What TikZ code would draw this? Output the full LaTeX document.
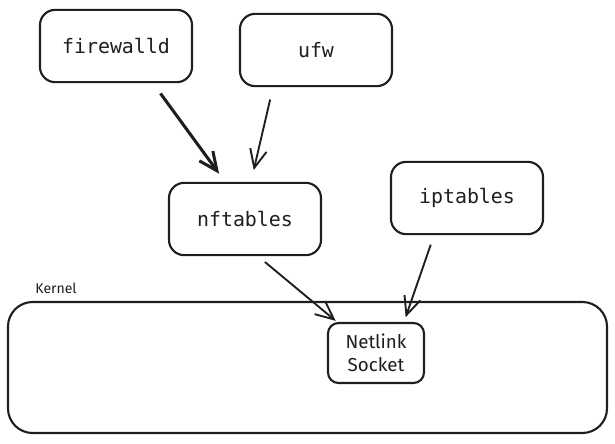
\documentclass[tikz,border=0pt]{standalone}
\usepackage{fontspec}
\usepackage{tikz}
\usetikzlibrary{arrows.meta,calc}
\newfontfamily\codefont{DejaVu Sans Mono}
\newfontfamily\handfont{Fira Sans}
\definecolor{inkblack}{RGB}{30,30,30}

\begin{document}
\begin{tikzpicture}[
    x=0.03cm, y=-0.03cm,
    tool/.style={rectangle, draw=inkblack, line width=1.8pt, rounded corners=13pt, minimum width=4.56cm, minimum height=2.17cm, font=\codefont\fontsize{17}{20}\selectfont, text=inkblack},
    socket/.style={rectangle, draw=inkblack, line width=1.8pt, rounded corners=9pt, minimum width=2.88cm, minimum height=1.8cm, align=center, font=\handfont\fontsize{16}{20}\selectfont, text=inkblack},
    kernelbox/.style={rectangle, draw=inkblack, line width=1.8pt, rounded corners=21pt, minimum width=17.97cm, minimum height=3.93cm},
    arrow/.style={-{Straight Barb[length=0.55cm, width=0.5cm]}, line width=1.6pt, inkblack}
]
\useasboundingbox (0,0) rectangle (615,443);

% Userspace tools
\node[tool] (firewalld) at (116,46) {firewalld};
\node[tool] (ufw) at (316,50) {ufw};
\node[tool] (nftables) at (245,219) {nftables};
\node[tool] (iptables) at (467,198) {iptables};

% Kernel
\node[kernelbox] (kernel) at (307.5,367.5) {};
\node[font=\handfont\fontsize{12}{14}\selectfont, text=inkblack] (kernellabel) at (56,288) {Kernel};
\node[socket, fill=white] (netlink) at (376,353) {Netlink\\Socket};

% Arrows
\draw[arrow, line width=2.6pt, shorten <=0.38cm, shorten >=0.3cm] ($(firewalld.south)+(37,0)$) -- ($(nftables.north)+(-20,0)$);
\draw[arrow, shorten <=0.38cm, shorten >=0.36cm] ($(ufw.south)+(-43,0)$) -- ($(nftables.north)+(6,0)$);
\draw[arrow, shorten <=0.27cm, shorten >=0.05cm] ($(nftables.south)+(13,0)$) -- ($(netlink.north)+(-39,0)$);
\draw[arrow, shorten <=0.3cm, shorten >=0.15cm] ($(iptables.south)+(-33,0)$) -- ($(netlink.north)+(28,0)$);

\end{tikzpicture}
\end{document}
